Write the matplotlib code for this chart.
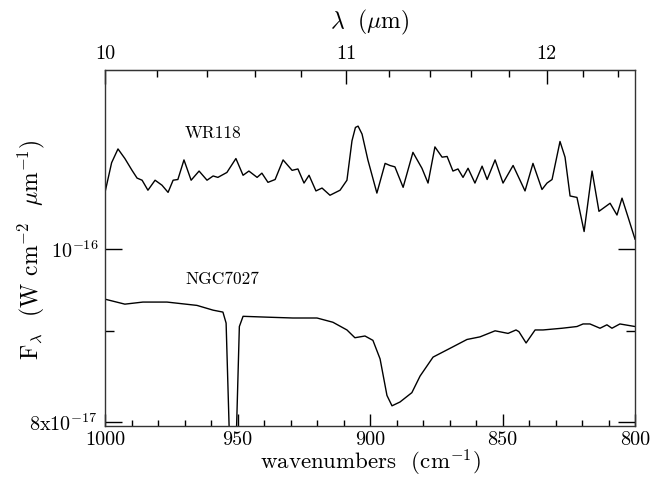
import numpy as np
import matplotlib
matplotlib.use('Agg')
import matplotlib.pyplot as plt
from matplotlib.ticker import FixedLocator, NullFormatter, FixedFormatter

# ---------------- data ----------------
flux_unit = 1e-16  # W cm^-2 um^-1

wr_wn = [1000.0, 997.5, 995.1, 992.5, 989.8, 987.9, 986.0, 983.8, 981.1, 978.5, 976.2, 974.3,
         972.5, 970.2, 967.5, 964.5, 961.5, 959.2, 957.4, 954.0, 950.6, 947.9,
         945.7, 942.6, 940.8, 938.5, 935.8, 932.8, 929.4, 927.2, 924.9, 923.0,
         920.4, 918.1, 915.1, 911.3, 908.7, 906.8, 905.5, 904.5, 903.0, 900.8, 897.4,
         894.3, 892.5, 890.6, 887.5, 883.8, 880.4, 878.1, 875.5, 872.8, 870.9,
         868.7, 866.8, 864.9, 863.0, 860.4, 857.7, 855.8, 852.8, 849.8, 846.0,
         841.5, 838.5, 835.1, 833.2, 831.3, 828.3, 826.4, 824.5, 821.9, 819.2,
         816.2, 813.6, 809.4, 806.8, 804.9, 802.6, 800.0]
wr_flux = [1.076, 1.118, 1.138, 1.124, 1.107, 1.096, 1.093, 1.079, 1.093, 1.086, 1.076, 1.093,
           1.094, 1.122, 1.093, 1.106, 1.093, 1.099, 1.097, 1.104, 1.124, 1.100,
           1.106, 1.097, 1.103, 1.090, 1.094, 1.122, 1.107, 1.109, 1.089, 1.100,
           1.078, 1.082, 1.072, 1.079, 1.093, 1.150, 1.170, 1.172, 1.160, 1.122, 1.075,
           1.117, 1.114, 1.112, 1.083, 1.133, 1.110, 1.089, 1.141, 1.126, 1.127,
           1.106, 1.109, 1.097, 1.110, 1.089, 1.113, 1.094, 1.122, 1.089, 1.114,
           1.078, 1.117, 1.080, 1.089, 1.094, 1.149, 1.126, 1.071, 1.069, 1.023,
           1.106, 1.050, 1.061, 1.045, 1.068, 1.042, 1.013]

ngc_wn = [1000.0, 992.5, 985.7, 976.6, 965.3, 959.2, 955.5, 954.3, 953.0, 951.8,
          950.5, 949.3, 947.9, 938.9, 929.1, 920.0, 914.0, 908.7, 905.7, 901.9,
          898.9, 896.2, 893.6, 891.7, 888.7, 884.2, 881.1, 876.2, 869.1, 863.4,
          858.5, 852.8, 847.9, 844.9, 843.8, 841.1, 837.7, 834.7, 827.5, 821.9,
          819.6, 817.0, 813.2, 810.6, 808.7, 805.7, 800.0]
ngc_flux = [0.9375, 0.9315, 0.934, 0.934, 0.930, 0.9243, 0.922, 0.909, 0.78, 0.65,
            0.78, 0.905, 0.917, 0.916, 0.915, 0.915, 0.910, 0.901, 0.892, 0.894,
            0.889, 0.868, 0.828, 0.817, 0.821, 0.831, 0.849, 0.870, 0.881, 0.890,
            0.893, 0.900, 0.897, 0.901, 0.899, 0.886, 0.901, 0.901, 0.903, 0.905,
            0.908, 0.908, 0.903, 0.907, 0.903, 0.908, 0.905]

x_major = [1000, 950, 900, 850, 800]
x_minor = list(range(990, 800, -10))
lam_major = [10, 11, 12]
lam_minor = [10.2, 10.4, 10.6, 10.8, 11.2, 11.4, 11.6, 11.8, 12.2, 12.4]
y_major = [1e-16, 8e-17]
y_major_labels = [r'$10^{-16}$', r'$8\mathrm{x}10^{-17}$']
y_minor = [9e-17]

# ---------------- style ----------------
plt.rcParams['mathtext.fontset'] = 'cm'
plt.rcParams['font.family'] = 'serif'
plt.rcParams['font.serif'] = ['cmr10', 'DejaVu Serif']
plt.rcParams['axes.formatter.use_mathtext'] = True

fig = plt.figure(figsize=(6.52, 4.78), dpi=100)
ax = fig.add_axes([105/652, 1-426/478, 530/652, 356/478])

ax.plot(wr_wn, np.array(wr_flux)*flux_unit, color='black', lw=1.0)
ax.plot(ngc_wn, np.array(ngc_flux)*flux_unit, color='black', lw=1.0)

ax.set_xlim(1000, 800)
ax.set_yscale('log')
ax.set_ylim(7.96e-17, 1.26e-16)

for s in ax.spines.values():
    s.set_color('#333333')
    s.set_linewidth(1.0)

ax.xaxis.set_major_locator(FixedLocator(x_major))
ax.xaxis.set_minor_locator(FixedLocator(x_minor))
ax.xaxis.set_major_formatter(FixedFormatter([str(v) for v in x_major]))
ax.xaxis.set_minor_formatter(NullFormatter())

ax.yaxis.set_major_locator(FixedLocator(y_major))
ax.yaxis.set_major_formatter(FixedFormatter(y_major_labels))
ax.yaxis.set_minor_locator(FixedLocator(y_minor))
ax.yaxis.set_minor_formatter(NullFormatter())

ax.tick_params(axis='x', which='major', direction='in', length=9, width=1,
               bottom=True, top=False, labelsize=14.5, pad=4)
ax.tick_params(axis='x', which='minor', direction='in', length=4.5, width=1,
               bottom=True, top=False)
ax.tick_params(axis='y', which='major', direction='in', length=12, width=1,
               left=True, right=True, labelsize=14.5, pad=5)
ax.tick_params(axis='y', which='minor', direction='in', length=6.5, width=1,
               left=True, right=True)

sec = ax.secondary_xaxis('top', functions=(lambda w: 1e4/w, lambda l: 1e4/l))
sec.xaxis.set_major_locator(FixedLocator(lam_major))
sec.xaxis.set_minor_locator(FixedLocator(lam_minor))
sec.xaxis.set_major_formatter(FixedFormatter([str(v) for v in lam_major]))
sec.xaxis.set_minor_formatter(NullFormatter())
sec.tick_params(axis='x', which='major', direction='in', length=10, width=1,
                labelsize=14.5, pad=5)
sec.tick_params(axis='x', which='minor', direction='in', length=5, width=1)
sec.spines['top'].set_color('#333333')
sec.set_xlabel(r'$\lambda\ \ (\mu\mathrm{m})$', fontsize=17, labelpad=12)

ax.set_xlabel(r'wavenumbers  (cm$^{-1}$)', fontsize=16.5)
ax.xaxis.label.set_va('center')
ax.xaxis.set_label_coords(0.5, -(463 - 426) / 356)
ax.set_ylabel(r'F$_\lambda$  (W cm$^{-2}$  $\mu$m$^{-1}$)', fontsize=17)
ax.yaxis.label.set_va('center')
ax.yaxis.set_label_coords((31 - 105) / 530, (426 - 250) / 356)

ax.text(969.8, 1.161e-16, 'WR118', fontsize=12.5, ha='left', va='center')
ax.text(969.8, 0.962e-16, 'NGC7027', fontsize=12.5, ha='left', va='center')

fig.savefig('out.png', dpi=100)
